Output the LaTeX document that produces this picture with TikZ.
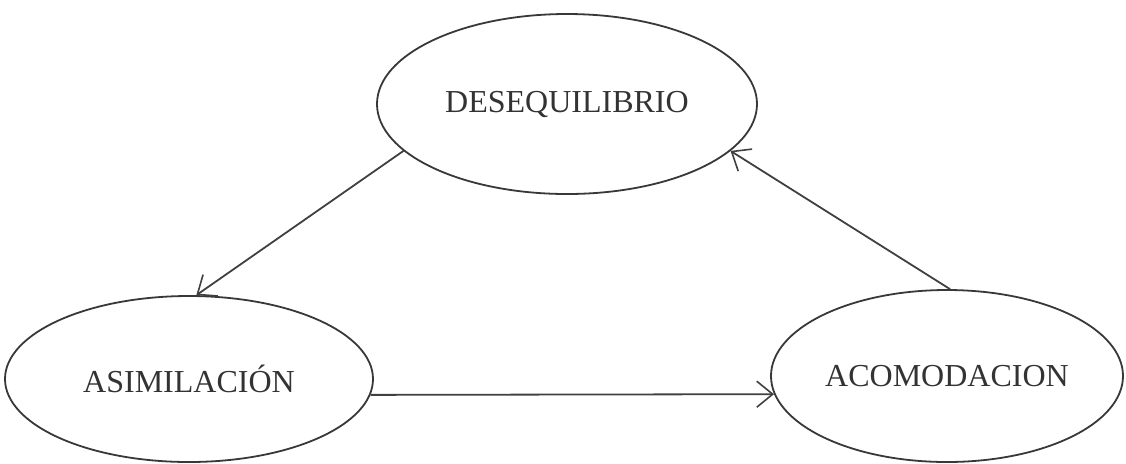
\documentclass[tikz,border=0pt]{standalone}
\usepackage{fontspec}
\setmainfont{Liberation Serif}
\usetikzlibrary{shapes.geometric,arrows.meta}

\begin{document}
\begin{tikzpicture}
[x=0.5pt,y=-0.5pt,%
  nodeDecorate/.style={shape=ellipse,draw=black!78,line width=0.9pt,inner sep=0pt,
    text=black!80,font=\fontsize{16}{19}\selectfont},%
  lineDecorate/.style={draw=black!75,line width=0.9pt,
    -{Straight Barb[length=8pt,width=13pt,line width=0.8pt]}}]
\useasboundingbox (0,0) rectangle (1126,463);
%%
%% nodes or vertices
\foreach \nodename/\x/\y/\w/\h/\nodetext in {
  deseq/567/104/190/90/DESEQUILIBRIO,
  asim/189/379/184/83/ASIMILACIÓN,
  acomod/947/376/176/86/ACOMODACION}
{
  \node (\nodename) at (\x,\y) [nodeDecorate,minimum width=\w pt,minimum height=\h pt] {\nodetext};
}
%% edges or lines
\path
\foreach \startnode/\endnode in {deseq.196.7/asim.85, acomod.88/deseq.-16, asim.-5.5/acomod.186}
{
  (\startnode) edge[lineDecorate] (\endnode)
};
\end{tikzpicture}
\end{document}
